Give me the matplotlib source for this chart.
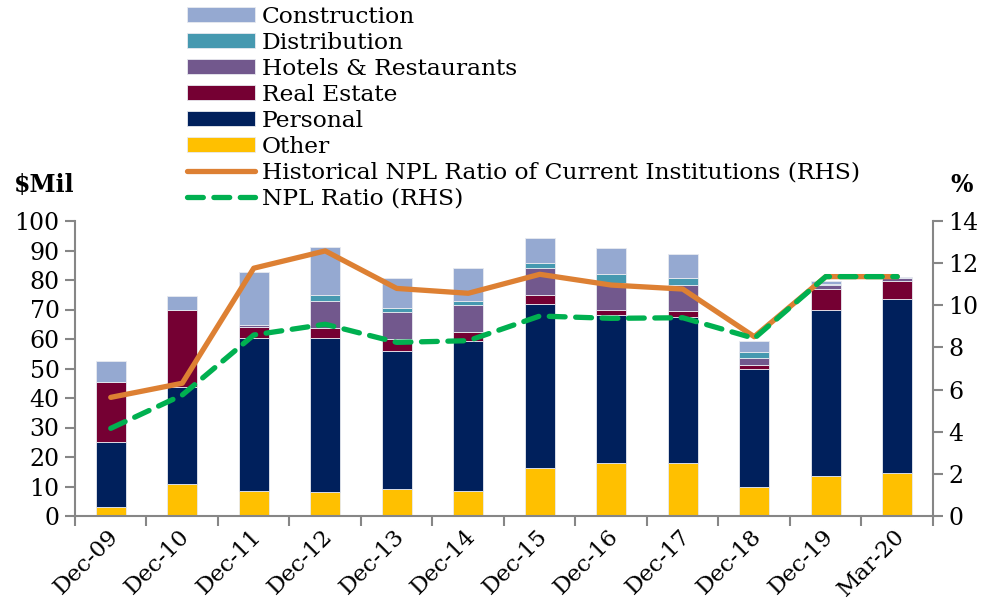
import matplotlib
matplotlib.use("Agg")
import matplotlib.pyplot as plt
import matplotlib.transforms as mtransforms
import numpy as np

categories = ["Dec-09", "Dec-10", "Dec-11", "Dec-12", "Dec-13", "Dec-14",
              "Dec-15", "Dec-16", "Dec-17", "Dec-18", "Dec-19", "Mar-20"]
other = [3.0, 10.8, 8.5, 8.0, 9.0, 8.5, 16.2, 18.0, 17.9, 9.7, 13.5, 14.6]
personal = [22.0, 33.0, 52.0, 52.2, 46.8, 50.8, 55.6, 50.1, 49.7, 40.0, 56.5, 59.1]
real_estate = [20.3, 26.0, 3.6, 3.4, 4.3, 3.1, 3.2, 1.9, 2.0, 1.4, 7.1, 6.0]
hotels = [0.0, 0.0, 0.5, 9.4, 8.9, 9.0, 9.0, 9.1, 8.8, 2.3, 1.1, 1.1]
distribution = [0.0, 0.0, 0.0, 2.0, 1.5, 1.6, 1.9, 2.9, 2.4, 2.1, 0.3, 0.0]
construction = [7.3, 4.8, 18.0, 16.3, 10.2, 11.1, 8.3, 8.8, 8.1, 3.8, 1.0, 0.2]
hist_npl = [5.63, 6.3, 11.76, 12.58, 10.8, 10.57, 11.47, 10.96, 10.77, 8.51, 11.36, 11.36]
npl_ratio = [4.16, 5.74, 8.59, 9.1, 8.24, 8.32, 9.49, 9.38, 9.41, 8.43, 11.36, 11.36]

left_ticks = list(range(0, 101, 10))
right_ticks = list(range(0, 15, 2))

plt.rcParams['font.family'] = ['DejaVu Serif']
FS = 17
axis_col = '#868686'

fig = plt.figure(figsize=(9.87, 6.07), dpi=100)
ax = fig.add_axes([75/987, 1-516/607, (933-75)/987, (516-221)/607])
x = np.arange(len(categories))

series = [("Other", other, '#FFC000'),
          ("Personal", personal, '#00205C'),
          ("Real Estate", real_estate, '#750033'),
          ("Hotels & Restaurants", hotels, '#72588D'),
          ("Distribution", distribution, '#4699B0'),
          ("Construction", construction, '#95A9D1')]
bottom = np.zeros(len(categories))
handles = {}
for name, vals, col in series:
    vals = np.array(vals)
    b = ax.bar(x, vals, 0.42, bottom=bottom, color=col, edgecolor='#E8EAF0',
               linewidth=0.6, label=name)
    handles[name] = b
    bottom += vals

ax.set_xlim(-0.5, len(categories) - 0.5)
ax.set_ylim(0, 100)
ax.set_yticks(left_ticks)
ax.set_xticks(np.arange(-0.5, len(categories)))
ax.set_xticklabels([])
ax.set_xticks(x, minor=True)
ax.set_xticklabels(categories, minor=True, rotation=45, ha='right', va='center',
                   rotation_mode='anchor', fontsize=16.5)
ax.tick_params(axis='x', which='minor', length=0, pad=12)
offset = mtransforms.ScaledTranslation(4/100, 0, fig.dpi_scale_trans)
for lab in ax.get_xticklabels(minor=True):
    lab.set_transform(lab.get_transform() + offset)
ax.tick_params(axis='x', which='major', length=7, color=axis_col, width=1.5)
ax.tick_params(axis='y', length=7, color=axis_col, width=1.5, labelsize=FS, pad=4)
for s in ['top', 'right']:
    ax.spines[s].set_visible(False)
for s in ['left', 'bottom']:
    ax.spines[s].set_color(axis_col)
    ax.spines[s].set_linewidth(1.5)

ax2 = ax.twinx()
ax2.set_ylim(0, 14)
ax2.set_yticks(right_ticks)
ax2.tick_params(axis='y', length=7, color=axis_col, width=1.5, labelsize=FS, pad=4)
for s in ['top', 'left', 'bottom']:
    ax2.spines[s].set_visible(False)
ax2.spines['right'].set_color(axis_col)
ax2.spines['right'].set_linewidth(1.5)

l1, = ax2.plot(x, hist_npl, color='#DD8033', lw=3.8, solid_capstyle='round',
               label='Historical NPL Ratio of Current Institutions (RHS)')
l2, = ax2.plot(x, npl_ratio, color='#00B050', lw=3.8, linestyle=(0, (3.0, 2.0)),
               dash_capstyle='round', label='NPL Ratio (RHS)')

fig.text(14/987, 1-185/607, '$Mil', fontsize=FS, fontweight='bold', va='center', ha='left')
fig.text(950/987, 1-185/607, '%', fontsize=FS, fontweight='bold', va='center', ha='left')

order = ["Construction", "Distribution", "Hotels & Restaurants", "Real Estate", "Personal", "Other"]
hl = [handles[n] for n in order] + [l1, l2]
labels = order + [l1.get_label(), l2.get_label()]
fig.legend(hl, labels, loc='upper left', bbox_to_anchor=(187/987, 1-6/607),
           frameon=False, fontsize=16.8, borderaxespad=0, borderpad=0,
           handlelength=2.9, handleheight=0.6, handletextpad=0.3,
           labelspacing=0.17)

fig.savefig('out.png', dpi=100)
